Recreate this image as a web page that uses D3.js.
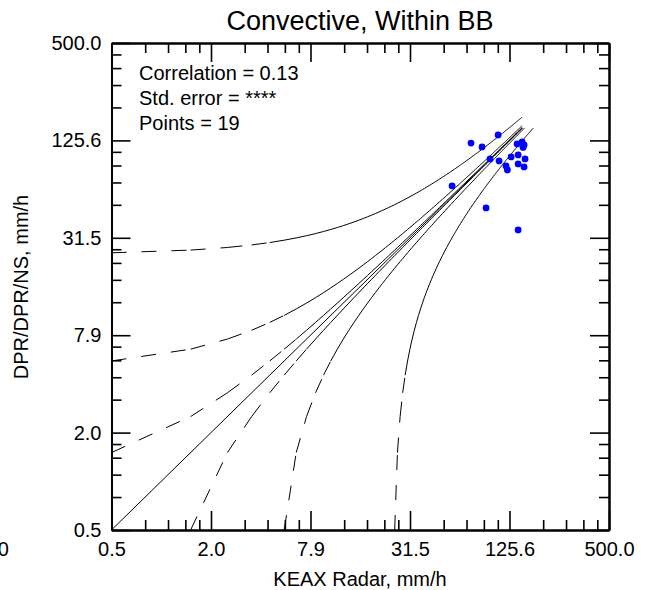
<!DOCTYPE html>
<html>
<head>
<meta charset="utf-8">
<script src="https://cdn.jsdelivr.net/npm/d3@7"></script>
<style>
  body { margin: 0; background: #fff; }
  svg text { font-family: "Liberation Sans", Arial, sans-serif; fill: #000; }
</style>
</head>
<body>
<svg id="canvas" width="650" height="590"></svg>
<script>
// scatter points, KEAX radar vs DPR (mm/h)
const radarRain = [73.6, 85.8, 107.2, 139.6, 149.6, 153.8, 151.7, 95.9, 108.7, 128.4,
                   141.6, 155.9, 119.7, 122.0, 141.6, 153.8, 56.6, 90.7, 141.6]
const dprRain   = [121.0, 114.5, 135.8, 119.5, 122.9, 117.8, 113.7, 96.6, 93.9, 99.4,
                   102.2, 96.6, 87.5, 82.6, 90.0, 86.2, 65.8, 48.2, 35.3]

const tickValues = [0.5, 1.9905, 7.9245, 31.548, 125.59, 500]
const tickLabels = ['0.5', '2.0', '7.9', '31.5', '125.6', '500.0']
const offsets = [1, 5, 25] // y = x +/- c reference curves
const curveMax = 150

const statsText = ['Correlation = 0.13', 'Std. error = ****', 'Points = 19']

let canvas = d3.select('#canvas')

const x = d3.scaleLog().domain([0.5, 500]).range([111.5, 609])
const y = d3.scaleLog().domain([0.5, 500]).range([530, 43])

// minor ticks: 5 linear steps between each pair of majors
let minorTicks = []
for (let i = 0; i < tickValues.length - 1; i++) {
  let step = (tickValues[i + 1] - tickValues[i]) / 5
  for (let k = 1; k < 5; k++) minorTicks.push(tickValues[i] + k * step)
}

let drawAxes = () => {
  const major = 19, minor = 10
  let mk = (axis, tf, labels) => {
    let g = canvas.append('g').attr('transform', tf)
    g.call(axis)
    g.selectAll('path.domain').attr('stroke', '#000').attr('stroke-width', 2)
    g.selectAll('.tick line').attr('stroke', '#000').attr('stroke-width', 1.6)
    g.selectAll('text').style('font-size', '20px')
    if (!labels) g.selectAll('text').remove()
    return g
  }
  let fmt = (d) => tickLabels[tickValues.indexOf(d)]
  mk(d3.axisBottom(x).tickValues(tickValues).tickSize(-major).tickSizeOuter(0).tickPadding(12).tickFormat(fmt), 'translate(0,530)', true)
  mk(d3.axisBottom(x).tickValues(minorTicks).tickSize(-minor).tickSizeOuter(0), 'translate(0,530)')
  mk(d3.axisTop(x).tickValues(tickValues).tickSize(-major).tickSizeOuter(0), 'translate(0,43)')
  mk(d3.axisTop(x).tickValues(minorTicks).tickSize(-minor).tickSizeOuter(0), 'translate(0,43)')
  mk(d3.axisLeft(y).tickValues(tickValues).tickSize(-major).tickSizeOuter(0).tickPadding(10).tickFormat(fmt), 'translate(111.5,0)', true)
  mk(d3.axisLeft(y).tickValues(minorTicks).tickSize(-minor).tickSizeOuter(0), 'translate(111.5,0)')
  mk(d3.axisRight(y).tickValues(tickValues).tickSize(-major).tickSizeOuter(0), 'translate(609,0)')
  mk(d3.axisRight(y).tickValues(minorTicks).tickSize(-minor).tickSizeOuter(0), 'translate(609,0)')
}

// dashed curves: pattern restarts on every segment (dense segments look solid)
let drawCurves = () => {
  let g = canvas.append('g')
  let samples = d3.range(0.5, curveMax, 1)
  offsets.forEach((c) => {
    let upper = samples.map((v) => [v, v + c])
    let lower = samples.map((v) => [v + c, v])
    ;[upper, lower].forEach((pts) => {
      g.selectAll(null)
        .data(d3.pairs(pts))
        .enter()
        .append('line')
        .attr('x1', (d) => x(d[0][0]))
        .attr('y1', (d) => y(d[0][1]))
        .attr('x2', (d) => x(d[1][0]))
        .attr('y2', (d) => y(d[1][1]))
        .attr('stroke', '#000')
        .attr('stroke-width', 1)
        .attr('stroke-dasharray', '15,15')
    })
  })
  g.append('line')
    .attr('x1', x(0.5)).attr('y1', y(0.5))
    .attr('x2', x(curveMax)).attr('y2', y(curveMax))
    .attr('stroke', '#000').attr('stroke-width', 1)
}

let drawPoints = () => {
  canvas.append('g').selectAll('circle')
    .data(d3.zip(radarRain, dprRain))
    .enter()
    .append('circle')
    .attr('cx', (d) => x(d[0]))
    .attr('cy', (d) => y(d[1]))
    .attr('r', 3.4)
    .attr('fill', '#0000ff')
}

let drawText = () => {
  canvas.append('text').attr('x', 360).attr('y', 30).attr('text-anchor', 'middle')
    .style('font-size', '27px').text('Convective, Within BB')
  canvas.append('text').attr('x', 360).attr('y', 586).attr('text-anchor', 'middle')
    .style('font-size', '20px').text('KEAX Radar, mm/h')
  canvas.append('text').attr('transform', 'translate(28,287) rotate(-90)').attr('text-anchor', 'middle')
    .style('font-size', '20px').text('DPR/DPR/NS, mm/h')
  canvas.append('text').attr('x', 9).attr('y', 556).attr('text-anchor', 'end')
    .style('font-size', '20px').text('500.0')
  canvas.selectAll('text.stat')
    .data(statsText)
    .enter()
    .append('text')
    .attr('class', 'stat')
    .attr('x', 139).attr('y', (d, i) => 80 + i * 25)
    .style('font-size', '20px')
    .text((d) => d)
}

drawCurves()
drawPoints()
drawAxes()
drawText()
</script>
</body>
</html>
